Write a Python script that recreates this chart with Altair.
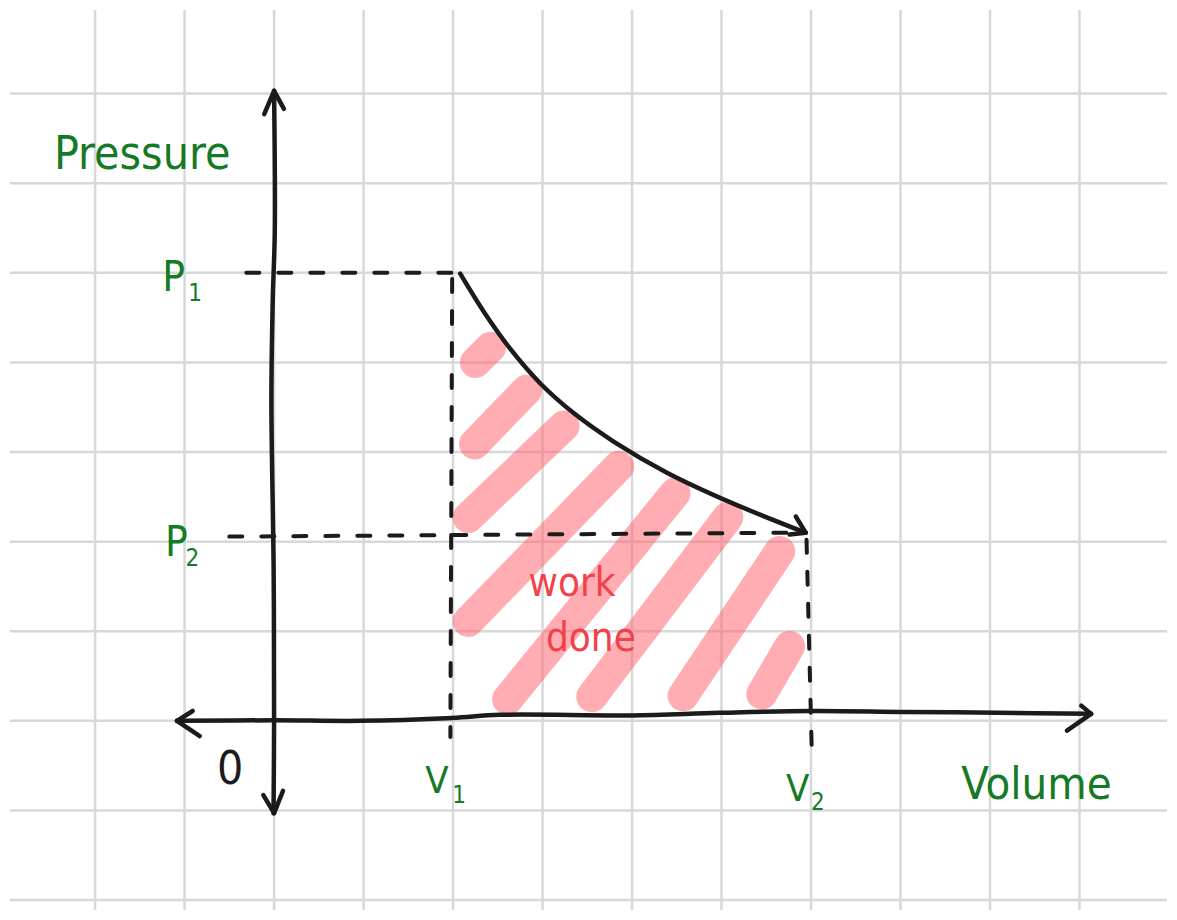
import altair as alt
import pandas as pd

# Sketch coordinate system: 1 unit = one grid square, origin where the axes cross
GRID_X = list(range(-2, 10))
GRID_Y = list(range(-2, 8))

# Hatch stripes of the "work done" area (start -> end)
STRIPE_X1 = [2.25, 2.24, 2.17, 2.17, 2.61, 3.55, 4.57, 5.45]
STRIPE_Y1 = [4.00, 3.09, 2.27, 1.11, 0.24, 0.27, 0.28, 0.30]
STRIPE_X2 = [2.42, 2.82, 3.24, 3.85, 4.48, 5.07, 5.65, 5.76]
STRIPE_Y2 = [4.17, 3.69, 3.29, 2.84, 2.54, 2.27, 1.89, 0.83]

# Expansion curve P(V)
CURVE_V = [2.08, 2.36, 2.64, 2.97, 3.34, 3.79, 4.39, 5.12, 5.94]
CURVE_P = [4.99, 4.54, 4.15, 3.77, 3.44, 3.12, 2.77, 2.43, 2.10]

# Hand-drawn axes
VAXIS_X = [0.0, 0.008, -0.015, -0.03, -0.005, 0.0, -0.006]
VAXIS_Y = [7.03, 5.47, 4.69, 3.58, 1.69, 0.0, -1.03]
HAXIS_X = [-1.085, 0.0, 0.97, 1.99, 2.53, 4.0, 4.97, 6.0, 7.01, 8.09, 9.13]
HAXIS_Y = [0.0, 0.006, 0.0, 0.033, 0.067, 0.06, 0.089, 0.11, 0.10, 0.09, 0.078]

# Arrowheads: tip and wing points
HEAD_TIP_X = [0.0, 0.0, -1.085, -1.085, 9.13, 9.13, 0.0, 0.0, 5.94, 5.94]
HEAD_TIP_Y = [7.03, 7.03, 0.0, 0.0, 0.078, 0.078, -1.03, -1.03, 2.10, 2.10]
HEAD_WING_X = [-0.11, 0.11, -0.91, -0.83, 9.02, 8.86, -0.12, 0.10, 5.83, 5.76]
HEAD_WING_Y = [6.77, 6.83, 0.11, -0.17, 0.17, -0.11, -0.83, -0.78, 2.28, 2.08]

# Dashed guide lines (P1, V1, P2, V2)
DASH_X1 = [-0.31, 1.99, -0.50, 5.95]
DASH_Y1 = [5.00, 4.93, 2.056, 2.02]
DASH_X2 = [2.06, 1.97, 5.79, 6.01]
DASH_Y2 = [5.00, -0.18, 2.10, -0.40]

# Green labels (main letters)
GREEN_TEXT = ["Pressure", "Volume", "P", "P", "V", "V"]
GREEN_X = [-2.46, 7.68, -1.25, -1.22, 1.69, 5.72]
GREEN_Y = [6.16, -0.87, 4.80, 1.84, -0.81, -0.89]
GREEN_SIZE = [46, 45, 42, 42, 38, 38]
# subscripts
SUB_TEXT = ["1", "2", "1", "2"]
SUB_X = [-0.96, -0.99, 1.99, 6.00]
SUB_Y = [4.68, 1.73, -0.92, -1.00]
# red annotation
RED_TEXT = ["work", "done"]
RED_X = [3.33, 3.54]
RED_Y = [1.39, 0.78]
# origin
ORIGIN_TEXT = ["0"]
ORIGIN_X = [-0.49]
ORIGIN_Y = [-0.70]

W, H = 1161, 904
XS = alt.Scale(domain=[-2.951, 9.978], nice=False, zero=False)
YS = alt.Scale(domain=[-2.111, 7.933], nice=False, zero=False)
FONT = "Liberation Sans Narrow, DejaVu Sans Condensed, Arial Narrow, sans-serif"
GREEN = "#157a25"
RED = "#f0424a"
INK = "#1b1b1b"


def X(f="x"):
    return alt.X(f"{f}:Q", scale=XS, axis=None)


def Y(f="y"):
    return alt.Y(f"{f}:Q", scale=YS, axis=None)


grid_v = alt.Chart(pd.DataFrame({"x": GRID_X})).mark_rule(
    color="#d8d8d8", strokeWidth=2.5).encode(x=X())
grid_h = alt.Chart(pd.DataFrame({"y": GRID_Y})).mark_rule(
    color="#d8d8d8", strokeWidth=2.5).encode(y=Y())

stripes = alt.Chart(pd.DataFrame({
    "x": STRIPE_X1, "y": STRIPE_Y1, "x2": STRIPE_X2, "y2": STRIPE_Y2
})).mark_rule(color="#ff5b65", opacity=0.5, strokeWidth=31, strokeCap="round").encode(
    x=X(), y=Y(), x2="x2:Q", y2="y2:Q")

dashes = alt.Chart(pd.DataFrame({
    "x": DASH_X1, "y": DASH_Y1, "x2": DASH_X2, "y2": DASH_Y2
})).mark_rule(color=INK, strokeWidth=4, strokeDash=[13, 19], strokeCap="round").encode(
    x=X(), y=Y(), x2="x2:Q", y2="y2:Q")

curve = alt.Chart(pd.DataFrame({"x": CURVE_V, "y": CURVE_P, "o": list(range(len(CURVE_V)))})).mark_line(
    color=INK, strokeWidth=4.5, interpolate="catmull-rom", strokeCap="round").encode(
    x=X(), y=Y(), order="o:Q")

vaxis = alt.Chart(pd.DataFrame({"x": VAXIS_X, "y": VAXIS_Y, "o": list(range(len(VAXIS_X)))})).mark_line(
    color=INK, strokeWidth=4.5, interpolate="catmull-rom", strokeCap="round").encode(
    x=X(), y=Y(), order="o:Q")

haxis = alt.Chart(pd.DataFrame({"x": HAXIS_X, "y": HAXIS_Y, "o": list(range(len(HAXIS_X)))})).mark_line(
    color=INK, strokeWidth=4.5, interpolate="catmull-rom", strokeCap="round").encode(
    x=X(), y=Y(), order="o:Q")

heads = alt.Chart(pd.DataFrame({
    "x": HEAD_TIP_X, "y": HEAD_TIP_Y, "x2": HEAD_WING_X, "y2": HEAD_WING_Y
})).mark_rule(color=INK, strokeWidth=4.5, strokeCap="round").encode(
    x=X(), y=Y(), x2="x2:Q", y2="y2:Q")

green = alt.Chart(pd.DataFrame({
    "t": GREEN_TEXT, "x": GREEN_X, "y": GREEN_Y, "s": GREEN_SIZE
})).mark_text(color=GREEN, font=FONT, align="left", baseline="alphabetic").encode(
    x=X(), y=Y(), text="t:N", size=alt.Size("s:Q", scale=None, legend=None))

subs = alt.Chart(pd.DataFrame({"t": SUB_TEXT, "x": SUB_X, "y": SUB_Y})).mark_text(
    color=GREEN, font=FONT, fontSize=24, align="left", baseline="alphabetic").encode(
    x=X(), y=Y(), text="t:N")

red = alt.Chart(pd.DataFrame({"t": RED_TEXT, "x": RED_X, "y": RED_Y})).mark_text(
    color=RED, font=FONT, fontSize=40, align="center", baseline="alphabetic").encode(
    x=X(), y=Y(), text="t:N")

origin = alt.Chart(pd.DataFrame({"t": ORIGIN_TEXT, "x": ORIGIN_X, "y": ORIGIN_Y})).mark_text(
    color=INK, font=FONT, fontSize=46, align="center", baseline="alphabetic").encode(
    x=X(), y=Y(), text="t:N")

chart = alt.layer(
    grid_v, grid_h, stripes, dashes, curve, vaxis, haxis, heads, green, subs, red, origin
).properties(
    width=W, height=H,
    autosize=alt.AutoSizeParams(type="fit", contains="padding"),
    padding=0, background="white",
).configure_view(stroke=None)

chart.save("out.html", embed_options={"renderer": "svg", "actions": False})
